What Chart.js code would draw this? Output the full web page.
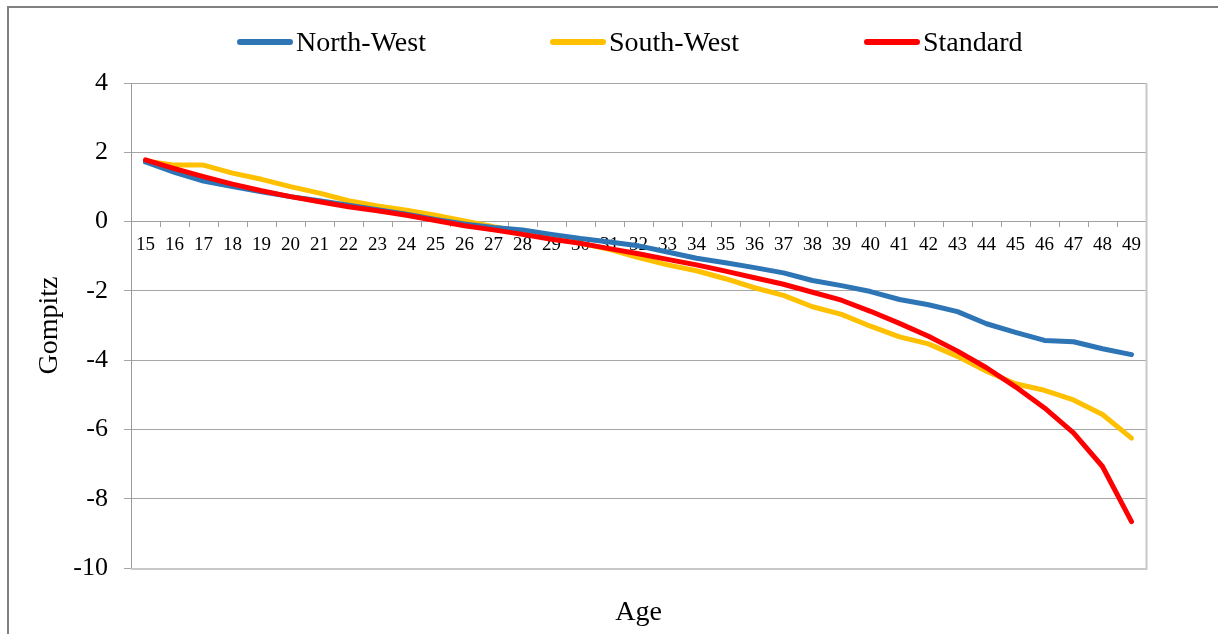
<!DOCTYPE html>
<html>
<head>
<meta charset="utf-8">
<script src="https://cdn.jsdelivr.net/npm/chart.js@4.4.1/dist/chart.umd.min.js"></script>
<style>
  html, body { margin: 0; padding: 0; background: #fff; }
  #wrap { position: relative; width: 1218px; height: 634px; overflow: hidden; background: #fff; }
  #frame { position: absolute; left: 7px; top: 6px; width: 1300px; height: 700px;
           border-left: 2px solid #808080; border-top: 2px solid #808080; }
  canvas { position: absolute; left: 0; top: 0; }
  .lg { position: absolute; top: 22px; height: 40px; display: flex; align-items: center;
        font-family: 'Liberation Serif', 'Times New Roman', serif; font-size: 28px; color: #000; white-space: nowrap; }
  .lg .sw { display: inline-block; width: 56px; height: 6px; border-radius: 3px; margin-right: 3px; }
</style>
</head>
<body>
<div id="wrap">
  <div id="frame"></div>
  <canvas id="c" width="1218" height="634"></canvas>
  <div id="legend"></div>
</div>
<script>
const ages = [15,16,17,18,19,20,21,22,23,24,25,26,27,28,29,30,31,32,33,34,35,36,37,38,39,40,41,42,43,44,45,46,47,48,49];
const northWest = [1.72,1.42,1.17,1.01,0.86,0.72,0.60,0.47,0.34,0.21,0.06,-0.07,-0.17,-0.24,-0.37,-0.49,-0.59,-0.70,-0.88,-1.06,-1.19,-1.33,-1.48,-1.70,-1.85,-2.02,-2.25,-2.40,-2.60,-2.95,-3.20,-3.43,-3.47,-3.67,-3.84];
const southWest = [1.75,1.63,1.63,1.40,1.22,1.01,0.82,0.60,0.45,0.33,0.18,0.02,-0.15,-0.30,-0.46,-0.63,-0.80,-1.04,-1.25,-1.42,-1.65,-1.91,-2.13,-2.46,-2.68,-3.02,-3.33,-3.53,-3.89,-4.32,-4.68,-4.87,-5.15,-5.57,-6.25];
const standard = [1.78,1.53,1.30,1.08,0.89,0.72,0.57,0.43,0.31,0.18,0.03,-0.12,-0.24,-0.37,-0.51,-0.63,-0.78,-0.93,-1.09,-1.25,-1.43,-1.62,-1.81,-2.04,-2.27,-2.59,-2.94,-3.31,-3.74,-4.22,-4.77,-5.38,-6.10,-7.07,-8.66];
const seriesNames = ['North-West','South-West','Standard'];
const seriesColors = ['#2E75B6','#FFC000','#FF0000'];
const yMin = -10, yMax = 4, yStep = 2;
const xTitle = 'Age', yTitle = 'Gompitz';

const serif = "'Liberation Serif', 'Times New Roman', serif";

// HTML legend
const legendLeft = [237, 550, 864];
const legend = document.getElementById('legend');
seriesNames.forEach((n, i) => {
  const d = document.createElement('div');
  d.className = 'lg';
  d.style.left = legendLeft[i] + 'px';
  d.innerHTML = '<span class="sw" style="background:' + seriesColors[i] + '"></span><span>' + n + '</span>';
  legend.appendChild(d);
});

const plotBorder = {
  id: 'plotBorder',
  afterDraw(chart) {
    const {ctx, chartArea: a} = chart;
    ctx.save();
    ctx.strokeStyle = '#C8C8C8';
    ctx.lineWidth = 2;
    ctx.beginPath();
    ctx.moveTo(a.right + 0.5, a.top);
    ctx.lineTo(a.right + 0.5, a.bottom + 1);
    ctx.lineTo(a.left, a.bottom + 1);
    ctx.stroke();
    ctx.restore();
  }
};

const mk = (label, data, color, order) => ({
  label, data, borderColor: color, backgroundColor: color, borderWidth: 5,
  pointRadius: 0, pointHoverRadius: 0, tension: 0, fill: false,
  borderCapStyle: 'round', borderJoinStyle: 'round', order
});

new Chart(document.getElementById('c'), {
  type: 'line',
  data: {
    labels: ages,
    datasets: [
      mk(seriesNames[0], northWest, seriesColors[0], 1),
      mk(seriesNames[1], southWest, seriesColors[1], 2),
      mk(seriesNames[2], standard, seriesColors[2], 0)
    ]
  },
  options: {
    responsive: false,
    animation: false,
    events: [],
    layout: { padding: { top: 83, right: 72, left: 0, bottom: 0 } },
    plugins: { legend: { display: false }, tooltip: { enabled: false } },
    scales: {
      x: {
        type: 'category',
        position: { y: 0 },
        offset: true,
        grid: { offset: true, drawOnChartArea: false, drawTicks: true, tickLength: 5, color: '#A0A0A0', lineWidth: 1 },
        border: { display: true, color: '#A0A0A0', width: 1 },
        ticks: { color: '#000', font: { family: serif, size: 19 }, padding: 7, maxRotation: 0, autoSkip: false }
      },
      x2: {
        type: 'category',
        position: 'bottom',
        labels: ages,
        grid: { display: false, drawTicks: false },
        border: { display: false },
        ticks: { display: false },
        title: { display: true, text: xTitle, color: '#000', font: { family: serif, size: 28 }, padding: { top: 0, bottom: 5 } },
        afterFit(s) { s.height = 66; }
      },
      y: {
        min: yMin, max: yMax,
        ticks: { stepSize: yStep, color: '#000', font: { family: serif, size: 26 }, padding: 16 },
        grid: { color: '#A6A6A6', lineWidth: 1, tickLength: 7, drawTicks: true },
        border: { display: true, color: '#999999', width: 1 },
        title: { display: true, text: yTitle, color: '#000', font: { family: serif, size: 28 }, padding: { top: 33, bottom: 0 } },
        afterFit(s) { s.width = 131; }
      }
    }
  },
  plugins: [plotBorder]
});
</script>
</body>
</html>
